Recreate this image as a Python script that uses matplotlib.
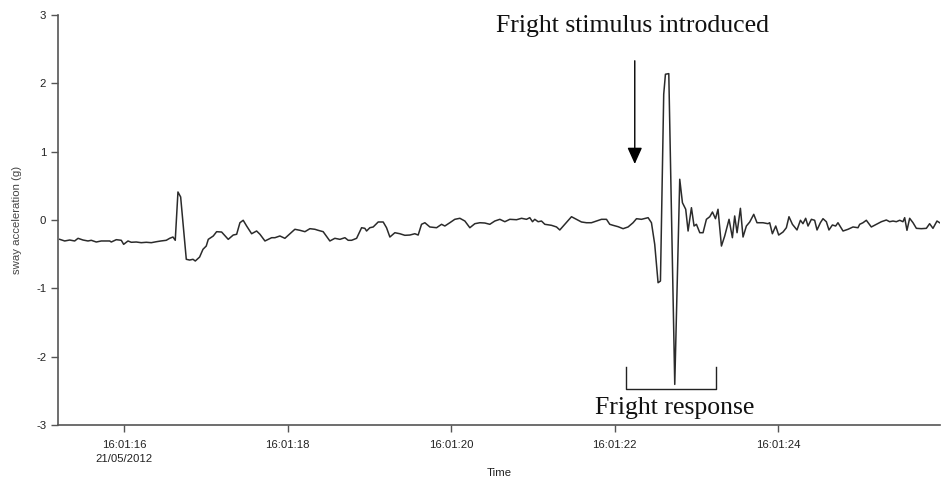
import matplotlib
matplotlib.use("Agg")
import matplotlib.pyplot as plt

# time in seconds after 16:01:00 on 21/05/2012
time_s = [15.214, 15.275, 15.336, 15.397, 15.438, 15.499, 15.560, 15.600, 15.661, 15.722,
          15.825, 15.845, 15.906, 15.967, 15.996, 16.049, 16.089, 16.150, 16.211, 16.273,
          16.334, 16.395, 16.452, 16.517, 16.559, 16.599, 16.627, 16.660, 16.693, 16.762,
          16.803, 16.844, 16.872, 16.925, 16.966, 17.006,
          17.031, 17.092, 17.133, 17.194, 17.275, 17.336, 17.378, 17.418, 17.458, 17.500,
          17.561, 17.622, 17.663, 17.724, 17.764, 17.806, 17.846, 17.907, 17.968, 18.029,
          18.090, 18.152, 18.213, 18.274, 18.335, 18.375, 18.436, 18.518, 18.579, 18.641,
          18.702, 18.742,
          18.784, 18.845, 18.906, 18.946, 18.967, 19.007, 19.048, 19.109, 19.170, 19.211,
          19.252, 19.313, 19.374, 19.435, 19.496, 19.557, 19.598, 19.639, 19.680, 19.741,
          19.823, 19.884, 19.924, 19.985, 20.046, 20.108, 20.169, 20.230, 20.291, 20.352,
          20.413, 20.474,
          20.535, 20.597, 20.658, 20.719, 20.801, 20.862, 20.923, 20.963, 20.996, 21.024,
          21.065, 21.106, 21.147, 21.229, 21.290, 21.330, 21.473, 21.534, 21.595, 21.656,
          21.717, 21.779, 21.840, 21.901, 21.941, 21.982, 22.043, 22.104, 22.165, 22.226,
          22.268, 22.329, 22.410, 22.451, 22.491, 22.532, 22.561, 22.601, 22.622, 22.663,
          22.736, 22.797, 22.830, 22.870, 22.899, 22.940, 22.972, 23.001, 23.042, 23.082,
          23.123, 23.164, 23.197, 23.234, 23.265, 23.307, 23.347, 23.400, 23.441, 23.469,
          23.498, 23.539, 23.571, 23.612, 23.653, 23.702, 23.742, 23.815, 23.876, 23.897,
          23.930, 23.971, 24.007, 24.060, 24.101, 24.133, 24.175, 24.231, 24.273, 24.304,
          24.337, 24.366, 24.407, 24.447, 24.476, 24.517, 24.549, 24.590, 24.622, 24.664,
          24.704, 24.732, 24.794, 24.855, 24.916, 24.977, 24.998, 25.038, 25.079, 25.140,
          25.202, 25.263, 25.324, 25.364, 25.405, 25.446, 25.487, 25.527, 25.548, 25.576,
          25.609, 25.650, 25.691, 25.752, 25.813, 25.853, 25.894, 25.943, 25.976]

sway_g = [-0.283, -0.307, -0.293, -0.307, -0.268, -0.293, -0.307, -0.297, -0.322, -0.307,
          -0.307, -0.322, -0.288, -0.297, -0.356, -0.307, -0.326, -0.322, -0.332, -0.326,
          -0.332, -0.318, -0.307, -0.297, -0.268, -0.249, -0.297, 0.410, 0.337, -0.575,
          -0.586, -0.575, -0.600, -0.542, -0.429, -0.381,
          -0.283, -0.234, -0.171, -0.176, -0.283, -0.220, -0.209, -0.040, -0.004, -0.088,
          -0.201, -0.161, -0.209, -0.307, -0.283, -0.259, -0.259, -0.234, -0.268, -0.201,
          -0.136, -0.151, -0.171, -0.127, -0.136, -0.151, -0.171, -0.307, -0.268, -0.283,
          -0.259, -0.297,
          -0.297, -0.268, -0.113, -0.122, -0.161, -0.113, -0.102, -0.029, -0.029, -0.113,
          -0.249, -0.186, -0.201, -0.224, -0.220, -0.201, -0.220, -0.063, -0.040, -0.102,
          -0.113, -0.063, -0.088, -0.040, 0.010, 0.025, -0.015, -0.113, -0.054, -0.040,
          -0.044, -0.063,
          -0.015, 0.010, -0.025, 0.010, 0.004, 0.025, 0.010, 0.034, -0.025, 0.010,
          -0.025, -0.015, -0.063, -0.078, -0.102, -0.146, 0.048, 0.010, -0.029, -0.040,
          -0.040, -0.015, 0.010, 0.010, -0.063, -0.078, -0.098, -0.127, -0.102, -0.040,
          0.019, 0.010, 0.034, -0.040, -0.356, -0.918, -0.893, 1.840, 2.133, 2.142,
          -2.406, 0.596, 0.253, 0.157, -0.161, 0.180, -0.088, -0.063, -0.186, -0.186,
          0.010, 0.048, 0.117, 0.019, 0.157, -0.381, -0.234, 0.010, -0.259, 0.059,
          -0.186, 0.171, -0.249, -0.088, -0.029, 0.083, -0.040, -0.040, -0.054, -0.040,
          -0.201, -0.088, -0.220, -0.176, -0.113, 0.048, -0.063, -0.146, -0.004, -0.054,
          0.025, -0.088, 0.010, -0.004, -0.146, -0.040, 0.019, -0.025, -0.146, -0.073,
          -0.088, -0.040, -0.161, -0.136, -0.102, -0.113, -0.063, -0.040, -0.004, -0.102,
          -0.063, -0.025, 0.000, -0.025, -0.015, -0.025, -0.004, -0.025, 0.034, -0.151,
          0.025, -0.040, -0.122, -0.127, -0.122, -0.054, -0.122, -0.015, -0.040]

x_ticks = [16, 18, 20, 22, 24]
x_tick_labels = ["16:01:16\n21/05/2012", "16:01:18", "16:01:20", "16:01:22", "16:01:24"]
y_ticks = [-3, -2, -1, 0, 1, 2, 3]

stimulus_label = "Fright stimulus introduced"
response_label = "Fright response"

plt.rcParams['font.family'] = ['Liberation Sans', 'DejaVu Sans']

fig = plt.figure(figsize=(9.47, 4.83), dpi=100)
ax = fig.add_axes([58/947, 1-425/483, (940-58)/947, (425-15)/483])

ax.plot(time_s, sway_g, color='#2b2b2b', lw=1.1)

ax.set_xlim(15.193, 25.98)
ax.set_ylim(-3, 3)
ax.set_xticks(x_ticks)
ax.set_xticklabels(x_tick_labels, fontsize=8.2, color='#222222', linespacing=1.45)
ax.set_yticks(y_ticks)
ax.set_yticklabels([str(v) for v in y_ticks], fontsize=8.2, color='#222222')

for s in ['top', 'right']:
    ax.spines[s].set_visible(False)
for s in ['left', 'bottom']:
    ax.spines[s].set_color('#555555')
    ax.spines[s].set_linewidth(1.2)
ax.tick_params(axis='both', direction='out', length=5, width=1.0, color='#555555')
ax.tick_params(axis='x', pad=6)
ax.tick_params(axis='y', pad=3.5)

ax.set_xlabel("Time", fontsize=8.2, color='#222222', labelpad=3)
ax.set_ylabel("sway acceleration (g)", fontsize=8.2, color='#444444', labelpad=10)

serif = ['Liberation Serif', 'DejaVu Serif']
ax.text(22.22, 2.84, stimulus_label, family=serif, fontsize=18.5, ha='center', va='center',
        color='#111111', clip_on=False)
ax.annotate("", xy=(22.247, 0.82), xytext=(22.247, 2.33),
            arrowprops=dict(arrowstyle='-|>,head_length=1.0,head_width=0.45', color='black',
                            lw=1.0, shrinkA=0, shrinkB=0))

br_l, br_r, br_t, br_b = 22.137, 23.246, -2.152, -2.474
ax.plot([br_l, br_l, br_r, br_r], [br_t, br_b, br_b, br_t], color='#222222', lw=1.0,
        clip_on=False)
ax.text(22.736, -2.75, response_label, family=serif, fontsize=18.5, ha='center', va='center',
        color='#111111', clip_on=False)

fig.savefig("out.png", dpi=100, facecolor='white')
